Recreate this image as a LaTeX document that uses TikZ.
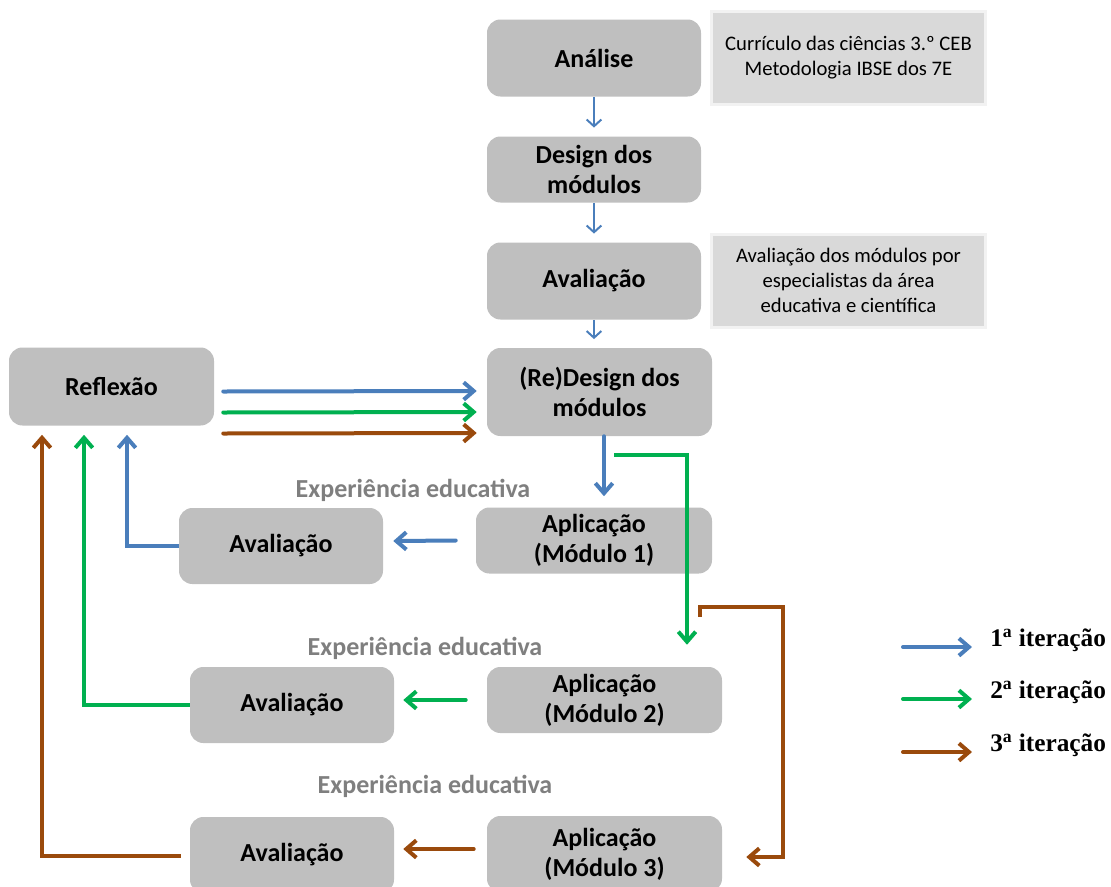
\documentclass[tikz,border=0pt]{standalone}
\usepackage{fontspec}
\setmainfont{Carlito}
\newfontfamily\legfont{Liberation Serif}
\usetikzlibrary{arrows.meta,calc}
\definecolor{boxgray}{HTML}{BFBFBF}
\definecolor{sidegray}{HTML}{D9D9D9}
\definecolor{sideedge}{HTML}{F2F2F2}
\definecolor{cblue}{HTML}{4A7EBB}
\definecolor{cgreen}{HTML}{00B050}
\definecolor{cbrown}{HTML}{9A4A0C}
\definecolor{expgray}{HTML}{7F7F7F}
\tikzset{
  box/.style={fill=boxgray, draw=none, rounded corners=10pt, align=center, inner sep=0pt,
    font=\bfseries\fontsize{19.5}{22.5}\selectfont},
  sidebox/.style={fill=sidegray, draw=sideedge, line width=2.25pt, align=center, inner sep=0pt,
    font=\fontsize{15.5}{18.75}\selectfont},
  exp/.style={text=expgray, font=\bfseries\fontsize{19.5}{22.5}\selectfont, inner sep=0pt},
  thinarr/.style={draw=cblue, line width=1.5pt, -{Straight Barb[length=5pt,width=11pt]}, shorten >=6.5pt},
  thick/.style={line width=3pt, line cap=round, -{Straight Barb[length=7.5pt,width=13pt]}},
  leg/.style={anchor=west, inner sep=0pt, font=\legfont\bfseries\fontsize{19}{22}\selectfont}
}
\begin{document}
\begin{tikzpicture}[x=0.75pt,y=-0.75pt]
\path[use as bounding box] (0,0) rectangle (1111,886);

% top column
\node[box, minimum width=214*0.75pt, minimum height=77*0.75pt] (ana) at (594,58) {Análise};
\node[box, minimum width=214*0.75pt, minimum height=66*0.75pt] (des) at (594,169.5) {Design dos\\módulos};
\node[box, minimum width=214*0.75pt, minimum height=77*0.75pt] (ava0) at (594,281) {Avaliação};
\node[sidebox, minimum width=274*0.75pt, minimum height=93*0.75pt] (side1) at (848.5,58) {Currículo das ciências 3.º CEB\\Metodologia IBSE dos 7E};
\node[sidebox, minimum width=274*0.75pt, minimum height=93*0.75pt] (side2) at (848.5,280.5) {Avaliação dos módulos por\\especialistas da área\\educativa e científica};
\node[box, minimum width=225*0.75pt, minimum height=88*0.75pt] (redes) at (599.5,392) {(Re)Design dos\\módulos};
\node[box, minimum width=205*0.75pt, minimum height=78*0.75pt] (refl) at (111.5,386.5) {Reflexão};

% rows
\node[exp] (exp1) at (413,490) {Experiência educativa};
\node[box, minimum width=236*0.75pt, minimum height=66*0.75pt] (ap1) at (594,540.5) {Aplicação\\(Módulo 1)};
\node[box, minimum width=204*0.75pt, minimum height=76*0.75pt] (av1) at (281,546) {Avaliação};
\node[exp] (exp2) at (425,648) {Experiência educativa};
\node[box, minimum width=235*0.75pt, minimum height=66*0.75pt] (ap2) at (604.5,700) {Aplicação\\(Módulo 2)};
\node[box, minimum width=204*0.75pt, minimum height=76*0.75pt] (av2) at (292,705) {Avaliação};
\node[exp] (exp3) at (435,786) {Experiência educativa};
\node[box, minimum width=235*0.75pt, minimum height=76*0.75pt] (ap3) at (604.5,854) {Aplicação\\(Módulo 3)};
\node[box, minimum width=204*0.75pt, minimum height=76*0.75pt] (av3) at (292,855) {Avaliação};

% thin arrows
\draw[thinarr] (ana.south) -- (des.north);
\draw[thinarr] (des.south) -- (ava0.north);
\draw[thinarr] (ava0.south) -- (ava0.south |- redes.north);

% reflexao -> redesign
\draw[thick, cblue] ($(refl.east)+(9,5)$) -- ($(redes.west)+(-10,-1)$);
\draw[thick, cgreen] ($(refl.east)+(9,26)$) -- ($(redes.west)+(-10,20)$);
\draw[thick, cbrown] ($(refl.east)+(9,47)$) -- ($(redes.west)+(-10,41)$);

% iteration 1
\draw[thick, cblue] ($(redes.south)+(4.5,0)$) -- ($(ap1.north)+(10,-11)$);
\draw[thick, cblue] ($(ap1.west)+(-20,0)$) -- ($(av1.east)+(10,-5)$);
\draw[thick, cblue, line cap=butt] (av1.west) -| ($(refl.south)+(15.5,9)$);

% iteration 2
\draw[thick, cgreen, line cap=butt] ($(redes.south)+(14.5,19)$) -| ($(ap2.north)+(82.5,-22)$);
\draw[thick, cgreen] ($(ap2.west)+(-21,0)$) -- ($(av2.east)+(9,-5)$);
\draw[thick, cgreen, line cap=butt] (av2.west) -| ($(refl.south)+(-27.5,9)$);

% iteration 3
\draw[thick, cbrown, line cap=butt] ($(ap1.south)+(106,43)$) -- ++(0,-10) -- ++(83,0) |- ($(ap3.east)+(24,3)$);
\draw[thick, cbrown] ($(ap3.west)+(-13,-5)$) -- ($(av3.east)+(9,-6)$);
\draw[thick, cbrown, line cap=butt] ($(av3.west)+(-9,1)$) -| ($(refl.south)+(-69.5,9)$);

% legend
\coordinate (l1a) at (903,647); \coordinate (l1b) at (972,647);
\coordinate (l2a) at (903,699); \coordinate (l2b) at (972,699);
\coordinate (l3a) at (903,752); \coordinate (l3b) at (972,752);
\draw[thick, cblue] (l1a) -- (l1b);
\draw[thick, cgreen] (l2a) -- (l2b);
\draw[thick, cbrown] (l3a) -- (l3b);
\node[leg] (t1) at (990,640) {1\textsuperscript{a} iteração};
\node[leg] (t2) at (990,692) {2\textsuperscript{a} iteração};
\node[leg] (t3) at (990,745) {3\textsuperscript{a} iteração};
\end{tikzpicture}
\end{document}
